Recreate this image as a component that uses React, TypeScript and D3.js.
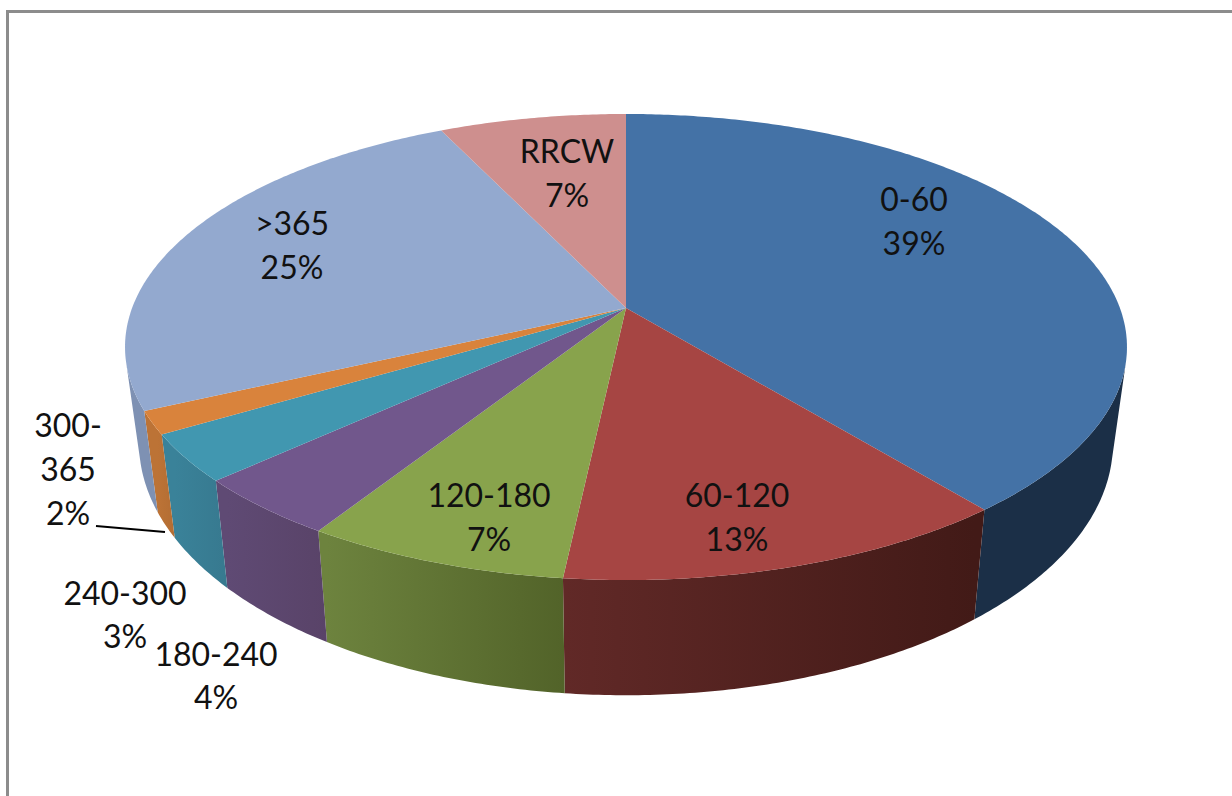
import React from 'react';
import * as d3 from 'd3';

const categories = ["0-60", "60-120", "120-180", "180-240", "240-300", "300-365", ">365", "RRCW"];
const shares = [39.2, 12.6, 7.3, 4.2, 3.3, 1.6, 24.9, 7.1];
const percentLabels = ["39%", "13%", "7%", "4%", "3%", "2%", "25%", "7%"];

const topColors = ["#4472a6", "#a64543", "#88a34c", "#71578c", "#4197b0", "#d9833c", "#93a9cf", "#ce8f8e"];
const wallFrom = ["#1b2f47", "#612927", "#6d833e", "#5f4a74", "#3a8299", "#bc7336", "#7e91b3", "#a87574"];
const wallTo = ["#1b2f47", "#421a17", "#526329", "#594368", "#37798f", "#b36d33", "#7e91b3", "#a87574"];

// category names split where the chart wraps them
const labelLines = [["0-60"], ["60-120"], ["120-180"], ["180-240"], ["240-300"], ["300-", "365"], [">365"], ["RRCW"]];

// label layout: centre x, baseline of the first line, line step
const labelLayout = [
    { x: 914, y: 211, dy: 44 },
    { x: 737, y: 507, dy: 44 },
    { x: 489, y: 507, dy: 44 },
    { x: 216, y: 666, dy: 43 },
    { x: 125, y: 605, dy: 43 },
    { x: 68, y: 437, dy: 44 },
    { x: 292, y: 235, dy: 44 },
    { x: 567, y: 163, dy: 44 },
];

const WIDTH = 1232;
const HEIGHT = 796;

// the disc is a circle seen in perspective, so the apex is not the ellipse centre
const PERSPECTIVE = 0.1674;
const BOTTOM_SHRINK = 0.972;
const xScale = d3.scaleLinear().domain([-1, 1]).range([626 - 493.9, 626 + 493.9]);
const yTop = d3.scaleLinear().domain([-1, 1]).range([308 + 226.5, 308 - 226.5]);
const yBottom = d3.scaleLinear().domain([-1, 1]).range([401 + 245, 401 - 245]);

function project(angle: number, bottom: boolean): [number, number] {
    const u = Math.sin(angle);
    const v = Math.cos(angle);
    const d = 1 + PERSPECTIVE * v;
    const s = bottom ? BOTTOM_SHRINK : 1;
    const y = bottom ? yBottom : yTop;
    return [xScale((u * s) / d), y(v / d)];
}

function arcAngles(a0: number, a1: number) {
    const n = Math.max(2, Math.ceil((a1 - a0) / 0.01));
    return d3.range(n + 1).map(i => a0 + ((a1 - a0) * i) / n);
}

// true where the side wall turns towards the viewer
function wallVisible(a: number) {
    const p = project(a, false);
    const q = project(a + 0.001, false);
    const b = project(a, true);
    return (q[0] - p[0]) * (b[1] - p[1]) - (q[1] - p[1]) * (b[0] - p[0]) < 0;
}

const pieData = d3.pie<number>().sort(null)(shares);
const path = d3.line();

export default function App() {
    return (
        <svg
            width={WIDTH}
            height={HEIGHT}
            style={{ position: "absolute", left: 0, top: 0, background: "#fff" }}
        >
            <defs>
                {pieData.map((d, i) => {
                    const [x0] = project(d.startAngle, true);
                    const [x1] = project(d.endAngle, true);
                    return (
                        <linearGradient key={i} id={`wall${i}`} gradientUnits="userSpaceOnUse" x1={x1} x2={x0} y1={0} y2={0}>
                            <stop offset="0" stopColor={wallFrom[i]} />
                            <stop offset="1" stopColor={wallTo[i]} />
                        </linearGradient>
                    );
                })}
            </defs>

            <path d="M7.5,796V11.5H1232" fill="none" stroke="#8c8c8c" strokeWidth={3} />

            <g>
                {pieData.map((d, i) => {
                    const angles = arcAngles(d.startAngle, d.endAngle).filter(wallVisible);
                    if (angles.length < 2) return null;
                    const pts = [
                        ...angles.map(a => project(a, false)),
                        ...angles.slice().reverse().map(a => project(a, true)),
                    ];
                    return <path key={categories[i]} d={path(pts) + "Z"} fill={`url(#wall${i})`} />;
                })}
            </g>

            <g>
                {pieData.map((d, i) => {
                    const pts: [number, number][] = [
                        [xScale(0), yTop(0)],
                        ...arcAngles(d.startAngle, d.endAngle).map(a => project(a, false)),
                    ];
                    return <path key={categories[i]} d={path(pts) + "Z"} fill={topColors[i]} />;
                })}
            </g>

            <line x1={96} y1={526} x2={165} y2={532} stroke="#000" strokeWidth={2} />

            <g fontFamily="Lato" fontSize={32} fill="#111" textAnchor="middle">
                {labelLayout.map((l, i) => (
                    <text key={categories[i]} x={l.x} y={l.y}>
                        {[...labelLines[i], percentLabels[i]].map((t, j) => (
                            <tspan key={j} x={l.x} y={l.y + j * l.dy}>{t}</tspan>
                        ))}
                    </text>
                ))}
            </g>
        </svg>
    );
}
